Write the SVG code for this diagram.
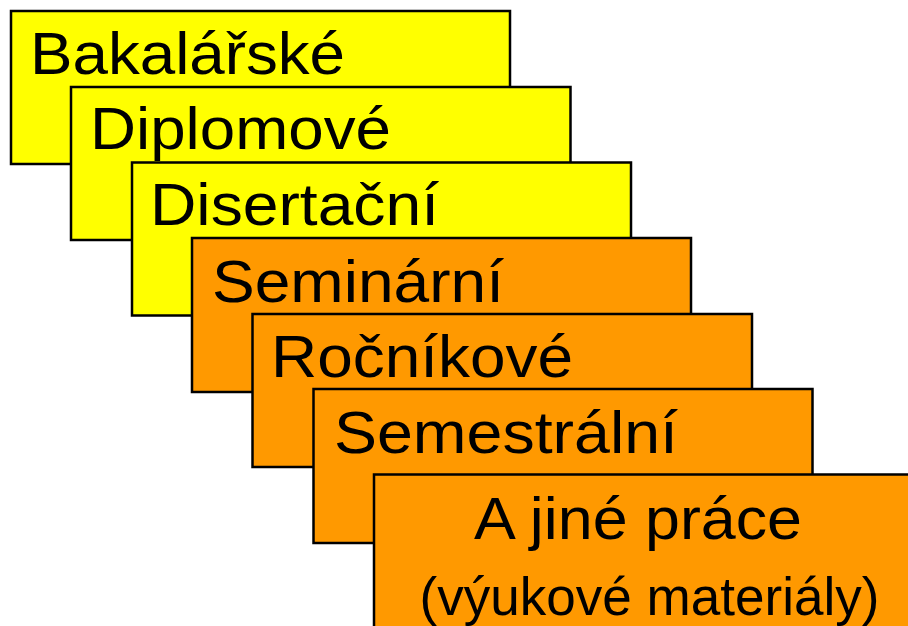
<svg xmlns="http://www.w3.org/2000/svg" width="908" height="626" viewBox="0 0 908 626">
<style>
.box{stroke:#000;stroke-width:2.5}
.y{fill:#FFFF00}
.o{fill:#FF9900}
.t{font-family:"Liberation Sans",Arial,sans-serif;font-size:60px;fill:#000}
.s{font-size:53px}
</style>
<rect width="908" height="626" fill="#fff"/>
<g id="bakalarske"><rect class="box y" x="11" y="11" width="499" height="153"/><text class="t" x="30" y="74" textLength="315" lengthAdjust="spacingAndGlyphs">Bakalářské</text></g>
<g id="diplomove"><rect class="box y" x="71" y="87" width="499.5" height="153"/><text class="t" x="90" y="149" textLength="301" lengthAdjust="spacingAndGlyphs">Diplomové</text></g>
<g id="disertacni"><rect class="box y" x="132" y="162.5" width="499" height="153"/><text class="t" x="150" y="225" textLength="289" lengthAdjust="spacingAndGlyphs">Disertační</text></g>
<g id="seminarni"><rect class="box o" x="192" y="238" width="499" height="154"/><text class="t" x="212" y="301.5" textLength="292" lengthAdjust="spacingAndGlyphs">Seminární</text></g>
<g id="rocnikove"><rect class="box o" x="252.5" y="314" width="499.5" height="153"/><text class="t" x="271" y="377" textLength="302" lengthAdjust="spacingAndGlyphs">Ročníkové</text></g>
<g id="semestralni"><rect class="box o" x="313.5" y="389" width="499" height="154"/><text class="t" x="334" y="453" textLength="344" lengthAdjust="spacingAndGlyphs">Semestrální</text></g>
<g id="jine"><rect class="box o" x="374" y="474.5" width="560" height="200"/><text class="t" x="474" y="538.5" textLength="328" lengthAdjust="spacingAndGlyphs">A jiné práce</text><text class="t s" x="419.5" y="615" textLength="460" lengthAdjust="spacingAndGlyphs">(výukové materiály)</text></g>
<g id="connectors"/>
</svg>
